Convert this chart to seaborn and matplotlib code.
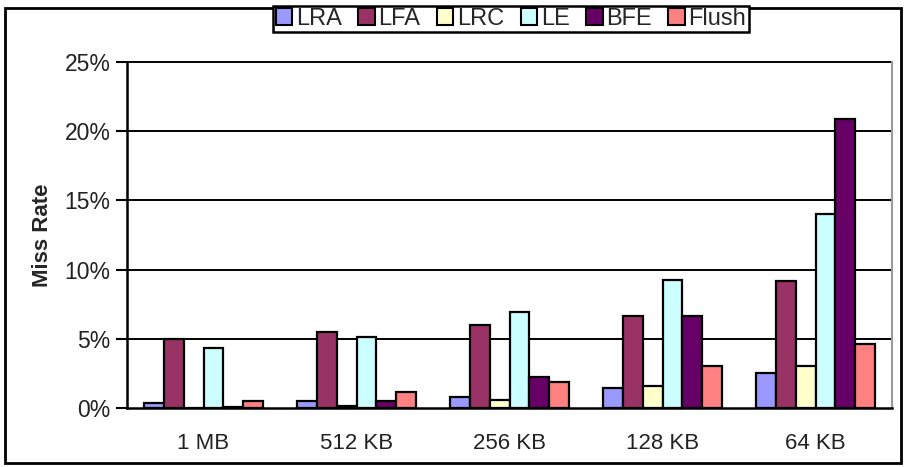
import matplotlib
matplotlib.use("Agg")
import matplotlib.pyplot as plt
import matplotlib.patches as mpatches
from matplotlib.ticker import FuncFormatter, FixedLocator
import seaborn as sns
import pandas as pd

sizes = ["1 MB", "512 KB", "256 KB", "128 KB", "64 KB"]
policies = ["LRA", "LFA", "LRC", "LE", "BFE", "Flush"]

# miss rate in percent, one list per policy
lra = [0.35, 0.5, 0.8, 1.45, 2.55]
lfa = [5.0, 5.5, 6.0, 6.65, 9.15]
lrc = [0.0, 0.15, 0.6, 1.6, 3.0]
le = [4.35, 5.1, 6.95, 9.25, 14.0]
bfe = [0.1, 0.5, 2.25, 6.65, 20.85]
flush = [0.5, 1.15, 1.9, 3.0, 4.65]

colors = ["#9999FF", "#993366", "#FFFFCC", "#CCFFFF", "#660066", "#FF8080"]

values = [lra, lfa, lrc, le, bfe, flush]
rows = []
for pol, vals in zip(policies, values):
    for s, v in zip(sizes, vals):
        rows.append({"size": s, "policy": pol, "rate": v / 100})
df = pd.DataFrame(rows)

sns.set_style("white")
plt.rcParams["font.family"] = ["Liberation Sans", "DejaVu Sans"]

fig = plt.figure(figsize=(9.07, 4.67), dpi=100)
ax = fig.add_axes([127 / 907, 59 / 467, 765 / 907, 346 / 467])

sns.barplot(data=df, x="size", y="rate", hue="policy", order=sizes,
            hue_order=policies, palette=colors, saturation=1, width=0.78,
            edgecolor="black", linewidth=1.6, ax=ax, legend=False)

ax.set_ylim(0, 0.25)
ax.set_xlim(-0.5, 4.5)
ax.yaxis.set_major_locator(FixedLocator([0, 0.05, 0.10, 0.15, 0.20, 0.25]))
ax.yaxis.set_major_formatter(FuncFormatter(lambda v, p: f"{v * 100:.0f}%"))
for y in [0.05, 0.10, 0.15, 0.20, 0.25]:
    ax.axhline(y, color="black", lw=1.4, zorder=0, clip_on=False)

ax.set_xlabel("")
ax.set_ylabel("Miss Rate", fontsize=16, fontweight="bold", labelpad=8)
ax.tick_params(axis="y", direction="out", length=8, width=1.5, pad=4,
               labelsize=16.5, left=True, colors="black")
ax.tick_params(axis="x", which="major", length=0, pad=18, labelsize=16)
ax.set_xticks([-0.5, 0.5, 1.5, 2.5, 3.5, 4.5], minor=True)
ax.tick_params(axis="x", which="minor", direction="out", length=5, width=1.5)
for lbl in ax.get_yticklabels() + ax.get_xticklabels():
    lbl.set_color("#222222")

ax.spines["top"].set_visible(False)
ax.spines["left"].set_color("black")
ax.spines["left"].set_linewidth(1.8)
ax.spines["bottom"].set_color("black")
ax.spines["bottom"].set_linewidth(1.8)
ax.spines["right"].set_color("#999999")
ax.spines["right"].set_linewidth(1.5)

# outer frame around the whole chart
fig.patches.append(mpatches.Rectangle((5 / 907, 4 / 467), 896 / 907, 455 / 467,
                                      transform=fig.transFigure, fill=False,
                                      edgecolor="black", lw=2))

handles = [mpatches.Patch(facecolor=c, edgecolor="black", lw=1.5) for c in colors]
leg = fig.legend(handles, policies, loc="center", bbox_to_anchor=(511 / 907, 1 - 19 / 467),
                 ncol=6, fontsize=17, frameon=True, fancybox=False,
                 handlelength=0.7, handleheight=0.7, handletextpad=0.15,
                 columnspacing=0.7, borderpad=0.1, borderaxespad=0)
leg.get_frame().set_edgecolor("black")
leg.get_frame().set_linewidth(1.8)
leg.get_frame().set_alpha(1)

fig.savefig("out.png", dpi=100)
